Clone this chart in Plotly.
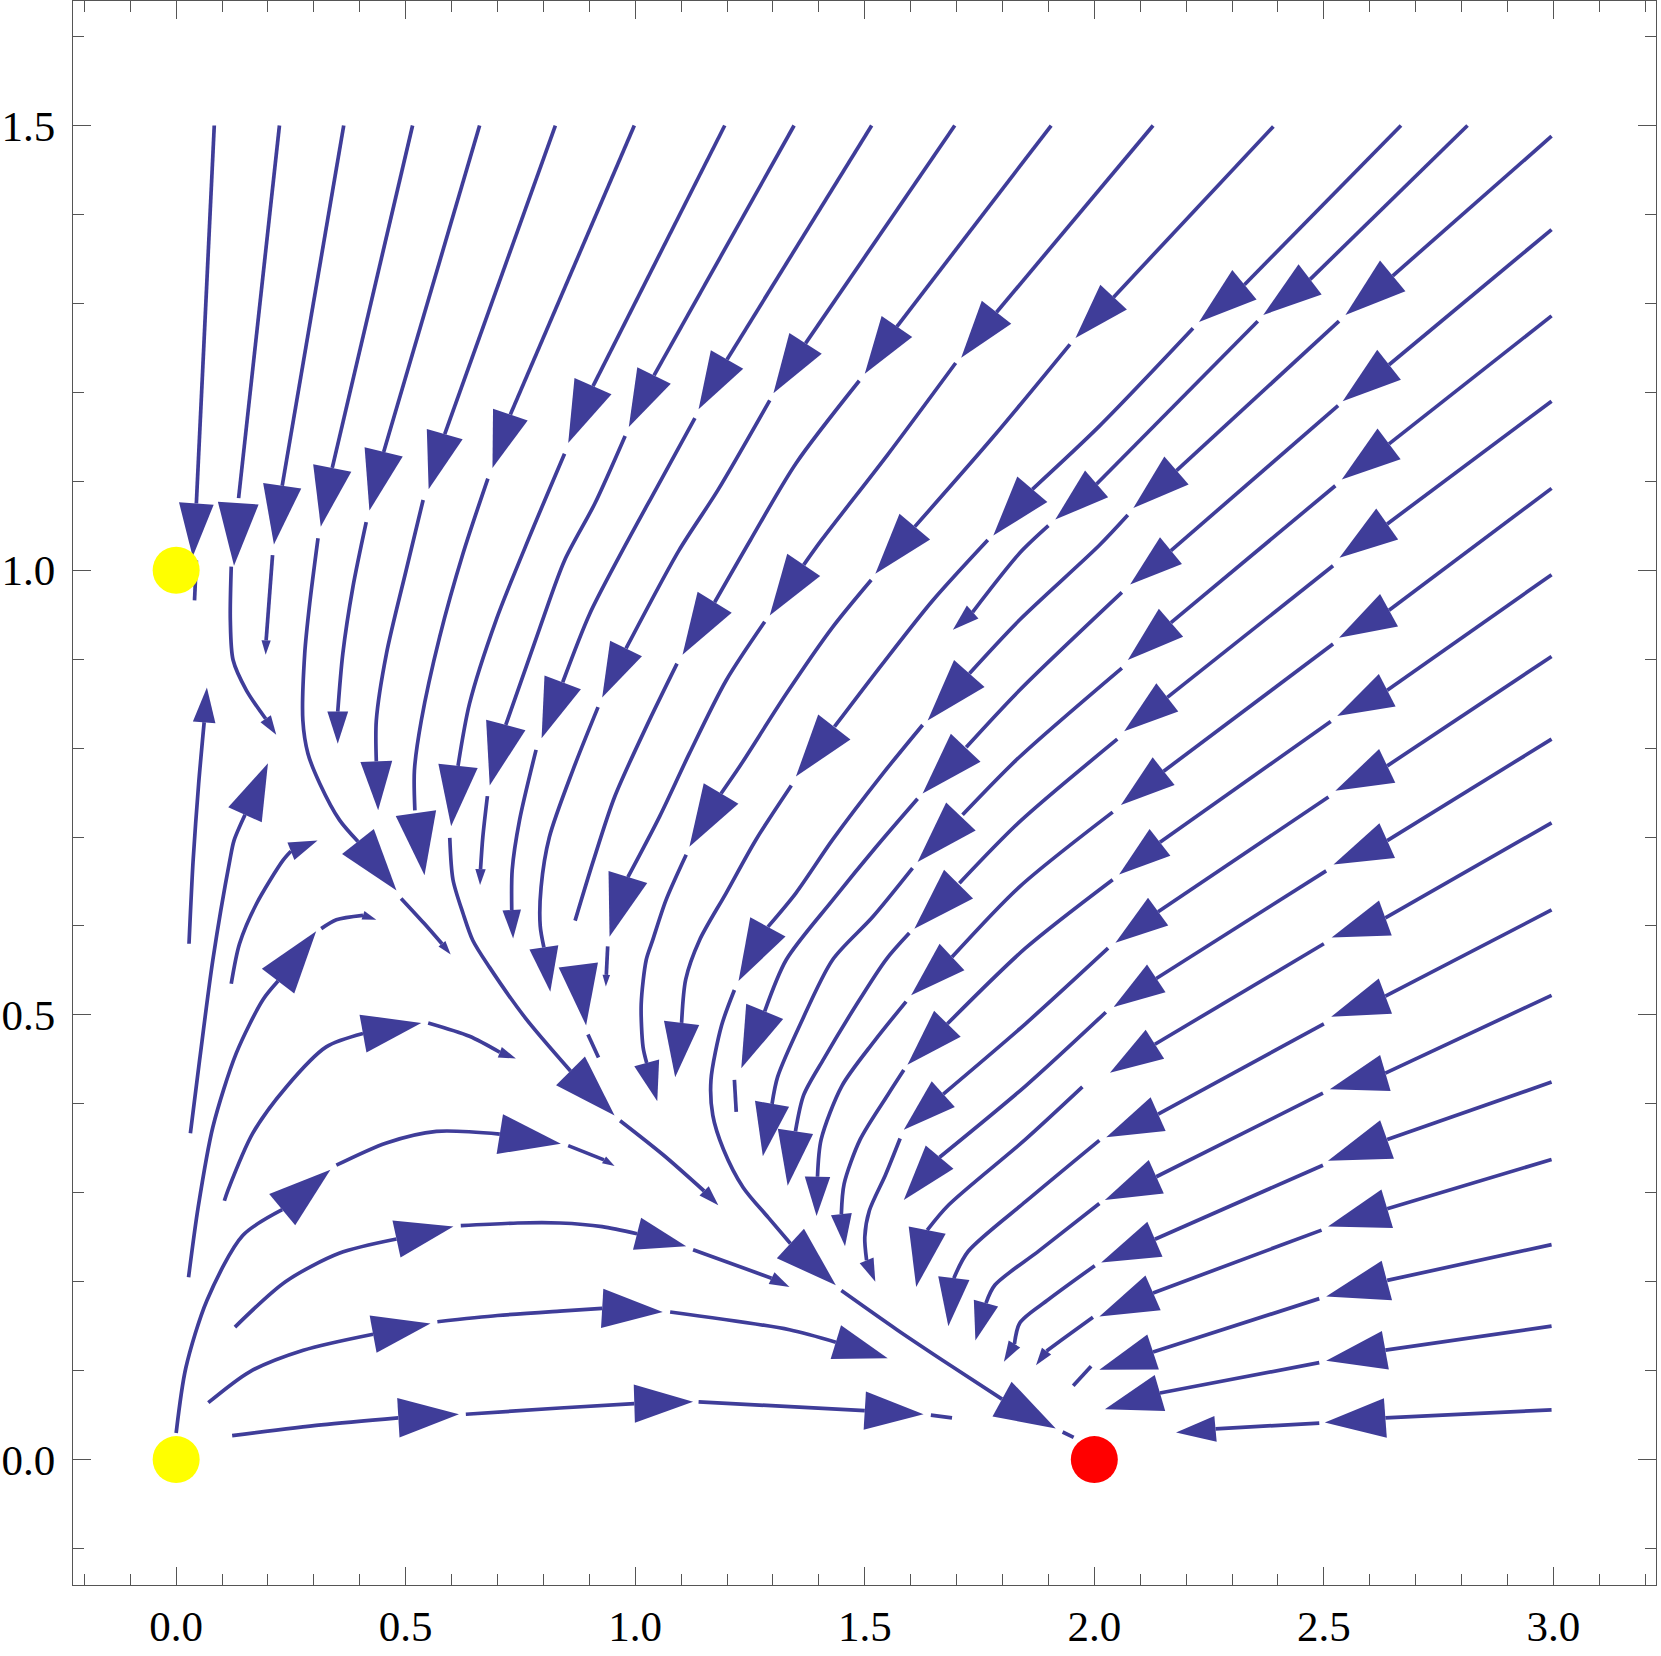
import math
import plotly.graph_objects as go

# streamlines, in data units; each stroke is one unbroken piece
top_strokes = [
    [(0.083, 1.500), (0.044, 1.075)],
    [(0.044, 1.011), (0.040, 0.966)],
    [(0.225, 1.500), (0.136, 1.081)],
    [(0.120, 1.004), (0.118, 0.944), (0.124, 0.899), (0.153, 0.865), (0.195, 0.833)],
    [(0.365, 1.500), (0.231, 1.095)],
    [(0.210, 1.017), (0.196, 0.921)],
    [(0.515, 1.500), (0.340, 1.115)],
    [(0.309, 1.036), (0.291, 0.963), (0.280, 0.906), (0.276, 0.831), (0.287, 0.794),
     (0.313, 0.760), (0.356, 0.719), (0.396, 0.695)],
    [(0.490, 0.631), (0.540, 0.603), (0.579, 0.580)],
    [(0.661, 1.500), (0.452, 1.133)],
    [(0.414, 1.054), (0.385, 0.981), (0.363, 0.906), (0.352, 0.841)],
    [(0.826, 1.500), (0.585, 1.153)],
    [(0.538, 1.079), (0.501, 1.000), (0.458, 0.906), (0.436, 0.831), (0.436, 0.785)],
    [(0.998, 1.500), (0.728, 1.175)],
    [(0.679, 1.103), (0.625, 1.019), (0.574, 0.925), (0.534, 0.831), (0.519, 0.775), (0.520, 0.730)],
    [(1.195, 1.500), (0.908, 1.207)],
    [(0.846, 1.131), (0.770, 1.038), (0.697, 0.944), (0.639, 0.850), (0.614, 0.780)],
    [(0.596, 0.699), (0.603, 0.652), (0.625, 0.614), (0.646, 0.584), (0.682, 0.554),
     (0.760, 0.497), (0.859, 0.437)],
    [(0.967, 0.381), (1.060, 0.343), (1.150, 0.302)],
    [(1.346, 1.500), (1.041, 1.219)],
    [(0.978, 1.151), (0.912, 1.075), (0.846, 1.011), (0.792, 0.935), (0.718, 0.826)],
    [(0.678, 0.746), (0.668, 0.700), (0.663, 0.664)],
    [(1.515, 1.500), (1.200, 1.237)],
    [(1.130, 1.171), (1.045, 1.091), (0.970, 1.020), (0.900, 0.950), (0.842, 0.874)],
    [(0.784, 0.798), (0.748, 0.719), (0.732, 0.663), (0.731, 0.618)],
    [(1.696, 1.500), (1.371, 1.255)],
    [(1.293, 1.191), (1.180, 1.090), (1.095, 1.022), (0.980, 0.912)],
    [(0.919, 0.846), (0.864, 0.775), (0.813, 0.700), (0.795, 0.644), (0.793, 0.600), (0.801, 0.576)],
    [(1.906, 1.500), (1.570, 1.274)],
    [(1.488, 1.213), (1.350, 1.120), (1.251, 1.034), (1.173, 0.964)],
    [(1.091, 0.895), (1.025, 0.825), (0.955, 0.745), (0.908, 0.672), (0.869, 0.606)],
    [(0.897, 0.478), (0.920, 0.452)],
    [(2.128, 1.500), (1.787, 1.290)],
    [(1.698, 1.233), (1.550, 1.130), (1.406, 1.034), (1.367, 1.006)],
    [(1.282, 0.942), (1.198, 0.876), (1.118, 0.794), (1.053, 0.723), (0.984, 0.655)],
    [(0.940, 0.577), (0.937, 0.545)],
    [(2.390, 1.499), (2.042, 1.307)],
    [(1.947, 1.254), (1.780, 1.150), (1.609, 1.049)],
    [(1.514, 0.989), (1.430, 0.936), (1.329, 0.861), (1.227, 0.779), (1.187, 0.749)],
    [(1.111, 0.680), (1.067, 0.629), (1.038, 0.584), (1.024, 0.562), (1.013, 0.512),
     (1.017, 0.464), (1.025, 0.446)],
    [(2.668, 1.500), (2.327, 1.321)],
    [(2.215, 1.272), (2.011, 1.162), (1.865, 1.091)],
    [(1.768, 1.034), (1.648, 0.966), (1.539, 0.895), (1.434, 0.824)],
    [(1.340, 0.758), (1.263, 0.697), (1.198, 0.637), (1.140, 0.584), (1.110, 0.540), (1.101, 0.491)],
    [(2.813, 1.500), (2.470, 1.327)],
    [(2.356, 1.280), (2.005, 1.097)],
    [(1.900, 1.050), (1.837, 1.019), (1.735, 0.953)],
]

# arrowheads as (base x, base y, tip x, tip y)
top_arrows = [
    (0.044, 1.075, 0.036, 1.015), (0.136, 1.081, 0.126, 1.005), (0.231, 1.095, 0.213, 1.029),
    (0.340, 1.115, 0.315, 1.049), (0.452, 1.133, 0.421, 1.067), (0.585, 1.153, 0.550, 1.091),
    (0.728, 1.175, 0.689, 1.115), (0.908, 1.207, 0.854, 1.143), (1.041, 1.219, 0.986, 1.161),
    (1.200, 1.237, 1.138, 1.181), (1.371, 1.255, 1.301, 1.199), (1.570, 1.274, 1.500, 1.221),
    (1.787, 1.290, 1.710, 1.239), (2.042, 1.307, 1.959, 1.261), (2.327, 1.321, 2.228, 1.279),
    (2.470, 1.327, 2.368, 1.287),
    (0.195, 0.833, 0.218, 0.815), (0.196, 0.921, 0.195, 0.905), (0.396, 0.695, 0.480, 0.640),
    (0.579, 0.580, 0.598, 0.568), (0.352, 0.841, 0.352, 0.805), (0.436, 0.785, 0.440, 0.730),
    (0.522, 0.728, 0.541, 0.657), (0.614, 0.780, 0.599, 0.712), (0.859, 0.437, 0.955, 0.387),
    (1.150, 0.302, 1.181, 0.286), (0.718, 0.826, 0.683, 0.758), (0.663, 0.664, 0.662, 0.646),
    (0.842, 0.874, 0.796, 0.811), (0.731, 0.618, 0.734, 0.586), (0.980, 0.912, 0.928, 0.857),
    (0.801, 0.576, 0.815, 0.526), (1.173, 0.964, 1.103, 0.905), (0.876, 0.556, 0.893, 0.488),
    (1.367, 1.006, 1.293, 0.949), (0.984, 0.655, 0.944, 0.588), (0.937, 0.545, 0.936, 0.532),
    (1.609, 1.049, 1.523, 0.996), (1.187, 0.749, 1.118, 0.689), (1.025, 0.446, 1.048, 0.403),
    (1.865, 1.091, 1.780, 1.039), (1.434, 0.824, 1.350, 0.768), (1.101, 0.491, 1.087, 0.430),
    (2.005, 1.097, 1.915, 1.057), (1.735, 0.953, 1.692, 0.933),
]

right_strokes = [
    [(2.996, 1.488), (2.650, 1.331)],
    [(2.533, 1.280), (2.179, 1.112)],
    [(2.073, 1.062), (2.011, 1.028), (1.837, 0.944), (1.728, 0.884)],
    [(1.626, 0.826), (1.539, 0.771), (1.430, 0.697), (1.350, 0.637), (1.289, 0.599)],
    [(1.216, 0.528), (1.188, 0.488), (1.165, 0.427), (1.169, 0.387), (1.192, 0.349),
     (1.235, 0.306), (1.290, 0.272), (1.338, 0.243)],
    [(1.449, 0.190), (1.570, 0.146), (1.686, 0.106), (1.799, 0.068)],
    [(1.931, 0.031), (1.955, 0.025)],
    [(2.996, 1.383), (2.642, 1.231)],
    [(2.531, 1.185), (2.167, 1.022)],
    [(2.060, 0.975), (1.837, 0.865), (1.721, 0.801)],
    [(1.615, 0.743), (1.525, 0.689), (1.430, 0.629), (1.329, 0.562), (1.282, 0.504)],
    [(1.216, 0.427), (1.220, 0.391)],
    [(2.996, 1.286), (2.642, 1.142)],
    [(2.525, 1.095), (2.167, 0.941)],
    [(2.060, 0.890), (1.837, 0.790), (1.713, 0.725)],
    [(1.604, 0.665), (1.517, 0.610), (1.430, 0.562), (1.360, 0.490), (1.310, 0.430), (1.298, 0.400)],
    [(2.996, 1.190), (2.638, 1.052)],
    [(2.520, 1.005), (2.159, 0.857)],
    [(2.050, 0.810), (1.837, 0.717), (1.706, 0.648)],
    [(1.597, 0.592), (1.546, 0.562), (1.480, 0.510), (1.410, 0.450), (1.367, 0.410), (1.349, 0.369)],
    [(2.996, 1.092), (2.642, 0.955)],
    [(2.520, 0.917), (2.151, 0.774)],
    [(2.040, 0.728), (1.837, 0.644), (1.690, 0.565)],
    [(1.590, 0.515), (1.520, 0.470), (1.450, 0.420), (1.405, 0.360), (1.397, 0.318)],
    [(2.996, 0.995), (2.638, 0.865)],
    [(2.515, 0.830), (2.143, 0.694)],
    [(2.040, 0.652), (1.850, 0.575), (1.680, 0.490)],
    [(1.585, 0.438), (1.550, 0.410), (1.490, 0.360), (1.455, 0.310), (1.449, 0.276)],
    [(2.996, 0.903), (2.638, 0.780)],
    [(2.510, 0.745), (2.139, 0.616)],
    [(2.030, 0.575), (1.850, 0.490), (1.671, 0.411)],
    [(1.577, 0.361), (1.545, 0.320), (1.510, 0.280), (1.500, 0.250), (1.504, 0.224)],
    [(2.996, 0.810), (2.638, 0.696)],
    [(2.505, 0.662), (2.135, 0.541)],
    [(2.025, 0.503), (1.850, 0.420), (1.663, 0.340)],
    [(2.996, 0.716), (2.634, 0.609)],
    [(2.500, 0.580), (2.132, 0.467)],
    [(1.974, 0.419), (1.850, 0.360), (1.682, 0.286), (1.636, 0.258)],
    [(2.996, 0.618), (2.634, 0.521)],
    [(2.500, 0.490), (2.139, 0.3885)],
    [(2.011, 0.359), (1.850, 0.290), (1.725, 0.234), (1.694, 0.204)],
    [(2.996, 0.522), (2.634, 0.4346)],
    [(2.498, 0.412), (2.135, 0.318)],
    [(2.011, 0.288), (1.880, 0.235), (1.783, 0.196), (1.764, 0.176)],
    [(2.996, 0.4245), (2.638, 0.360)],
    [(2.498, 0.331), (2.132, 0.2478)],
    [(2.001, 0.218), (1.900, 0.180), (1.838, 0.154), (1.826, 0.130)],
    [(2.996, 0.3375), (2.638, 0.282)],
    [(2.495, 0.258), (2.128, 0.1874)],
    [(1.997, 0.160), (1.930, 0.135), (1.896, 0.122)],
    [(2.996, 0.2417), (2.638, 0.2015)],
    [(2.490, 0.181), (2.128, 0.121)],
    [(1.993, 0.105), (1.954, 0.083)],
    [(2.996, 0.150), (2.634, 0.123)],
    [(2.490, 0.109), (2.143, 0.0749)],
    [(2.996, 0.056), (2.634, 0.0468)],
    [(2.490, 0.041), (2.264, 0.0346)],
]

right_arrows = [
    (2.650, 1.331, 2.547, 1.287), (2.179, 1.112, 2.085, 1.070), (1.728, 0.884, 1.637, 0.831),
    (1.289, 0.599, 1.225, 0.538), (1.338, 0.243, 1.437, 0.196), (1.799, 0.068, 1.916, 0.035),
    (2.642, 1.231, 2.541, 1.190), (2.167, 1.022, 2.078, 0.984), (1.721, 0.801, 1.626, 0.749),
    (1.282, 0.504, 1.231, 0.440),
    (2.642, 1.142, 2.539, 1.102), (2.167, 0.941, 2.073, 0.899), (1.713, 0.725, 1.615, 0.672),
    (1.298, 0.400, 1.278, 0.341),
    (2.638, 1.052, 2.534, 1.014), (2.159, 0.857, 2.065, 0.819), (1.706, 0.648, 1.608, 0.597),
    (1.349, 0.369, 1.332, 0.308),
    (2.642, 0.955, 2.533, 0.924), (2.151, 0.774, 2.058, 0.736), (1.690, 0.565, 1.601, 0.522),
    (1.397, 0.318, 1.395, 0.274),
    (2.638, 0.865, 2.529, 0.836), (2.143, 0.694, 2.054, 0.658), (1.680, 0.490, 1.593, 0.444),
    (1.449, 0.276, 1.457, 0.240),
    (2.638, 0.780, 2.525, 0.752), (2.139, 0.616, 2.046, 0.581), (1.671, 0.411, 1.585, 0.371),
    (1.504, 0.224, 1.523, 0.200),
    (2.638, 0.696, 2.521, 0.669), (2.135, 0.541, 2.042, 0.509), (1.663, 0.340, 1.585, 0.292),
    (2.634, 0.609, 2.517, 0.587), (2.132, 0.467, 2.034, 0.435), (1.636, 0.258, 1.612, 0.194),
    (2.634, 0.521, 2.516, 0.498), (2.139, 0.3885, 2.026, 0.3625), (1.694, 0.204, 1.682, 0.150),
    (2.634, 0.4346, 2.513, 0.4164), (2.135, 0.318, 2.023, 0.292), (1.764, 0.176, 1.741, 0.134),
    (2.638, 0.360, 2.509, 0.336), (2.132, 0.2478, 2.015, 0.2216), (1.826, 0.130, 1.803, 0.110),
    (2.638, 0.282, 2.509, 0.262), (2.128, 0.1874, 2.011, 0.161), (1.896, 0.122, 1.873, 0.106),
    (2.638, 0.2015, 2.505, 0.1834), (2.128, 0.121, 2.011, 0.101),
    (2.634, 0.123, 2.505, 0.111), (2.143, 0.0749, 2.023, 0.0567),
    (2.634, 0.0468, 2.502, 0.0418), (2.264, 0.0346, 2.178, 0.0306),
]

left_strokes = [
    [(0.028, 0.580), (0.037, 0.674), (0.049, 0.760), (0.061, 0.829)],
    [(0.031, 0.367), (0.051, 0.449), (0.080, 0.562), (0.117, 0.674), (0.126, 0.696), (0.150, 0.725)],
    [(0.120, 0.535), (0.138, 0.580), (0.175, 0.625), (0.233, 0.674), (0.250, 0.684)],
    [(0.027, 0.205), (0.048, 0.284), (0.080, 0.374), (0.131, 0.457), (0.189, 0.517), (0.222, 0.538)],
    [(0.316, 0.597), (0.349, 0.607), (0.407, 0.612)],
    [(0.105, 0.291), (0.113, 0.303), (0.167, 0.367), (0.240, 0.419), (0.327, 0.464), (0.407, 0.479)],
    [(0.549, 0.491), (0.639, 0.476), (0.705, 0.458)],
    [(0.000, 0.030), (0.021, 0.103), (0.067, 0.179), (0.145, 0.252), (0.231, 0.281)],
    [(0.349, 0.331), (0.458, 0.356), (0.567, 0.369), (0.705, 0.366)],
    [(0.854, 0.353), (0.932, 0.337)],
    [(0.128, 0.149), (0.238, 0.200), (0.355, 0.232), (0.480, 0.248)],
    [(0.620, 0.263), (0.744, 0.266), (0.836, 0.266), (0.928, 0.262), (1.004, 0.254)],
    [(1.126, 0.236), (1.297, 0.204)],
    [(0.070, 0.064), (0.161, 0.099), (0.277, 0.123), (0.429, 0.141)],
    [(0.569, 0.155), (0.700, 0.162), (0.836, 0.167), (0.928, 0.170)],
    [(1.076, 0.166), (1.336, 0.146), (1.437, 0.132)],
    [(0.122, 0.027), (0.316, 0.039), (0.484, 0.047)],
    [(0.631, 0.051), (0.836, 0.058), (0.998, 0.063)],
    [(1.138, 0.065), (1.500, 0.055)],
    [(1.644, 0.050), (1.690, 0.047)],
]

left_arrows = [
    (0.061, 0.829, 0.067, 0.868), (0.150, 0.725, 0.200, 0.783), (0.250, 0.684, 0.308, 0.696),
    (0.222, 0.538, 0.305, 0.594), (0.407, 0.612, 0.436, 0.607), (0.407, 0.479, 0.534, 0.491),
    (0.705, 0.458, 0.740, 0.451), (0.231, 0.281, 0.336, 0.326), (0.705, 0.366, 0.838, 0.355),
    (0.932, 0.337, 0.955, 0.330), (0.480, 0.248, 0.604, 0.262), (1.004, 0.254, 1.111, 0.240),
    (1.297, 0.204, 1.336, 0.194), (0.429, 0.141, 0.554, 0.153), (0.928, 0.170, 1.060, 0.166),
    (1.437, 0.132, 1.550, 0.114), (0.484, 0.047, 0.616, 0.051), (0.998, 0.063, 1.126, 0.065),
    (1.500, 0.055, 1.628, 0.051),
]

# equilibrium points
unstable_x = [0.0, 0.0]
unstable_y = [0.0, 1.0]
stable_x = [2.0]
stable_y = [0.0]

X_RANGE = [-0.2247, 3.2235]
Y_RANGE = [-0.141, 1.640]
W, H = 1661, 1656
MARGIN = dict(l=73, r=5, t=1, b=71)
LINE_COLOR = "#3F3D99"
FRAME = "#555555"


def stroke_xy(strokes):
    xs, ys = [], []
    for s in strokes:
        for x, y in s:
            xs.append(x)
            ys.append(y)
        xs.append(None)
        ys.append(None)
    return xs, ys


def arrow_xy(arrows):
    # base/tip pairs; the marker sits on the tip and points away from the base
    px_x = (W - MARGIN["l"] - MARGIN["r"]) / (X_RANGE[1] - X_RANGE[0])
    px_y = (H - MARGIN["t"] - MARGIN["b"]) / (Y_RANGE[1] - Y_RANGE[0])
    xs, ys, sizes = [], [], []
    for bx, by, tx, ty in arrows:
        length = math.hypot((tx - bx) * px_x, (ty - by) * px_y)
        xs += [bx, tx]
        ys += [by, ty]
        sizes += [0, min(max(length / 0.951, 12), 66)]
    return xs, ys, sizes


all_strokes = top_strokes + right_strokes + left_strokes
all_arrows = top_arrows + right_arrows + left_arrows

fig = go.Figure()

sx, sy = stroke_xy(all_strokes)
fig.add_trace(go.Scatter(
    x=sx, y=sy, mode="lines",
    line=dict(color=LINE_COLOR, width=3.7, shape="spline", smoothing=0.8),
    hoverinfo="skip", showlegend=False,
))

ax, ay, asz = arrow_xy(all_arrows)
fig.add_trace(go.Scatter(
    x=ax, y=ay, mode="markers",
    marker=dict(symbol="arrow", size=asz, color=LINE_COLOR, opacity=1,
                angleref="previous", line=dict(width=0)),
    hoverinfo="skip", showlegend=False,
))

fig.add_trace(go.Scatter(
    x=unstable_x, y=unstable_y, mode="markers",
    marker=dict(size=47, color="#FFFF00", opacity=1, line=dict(width=0)),
    hoverinfo="skip", showlegend=False,
))
fig.add_trace(go.Scatter(
    x=stable_x, y=stable_y, mode="markers",
    marker=dict(size=47, color="#FF0000", opacity=1, line=dict(width=0)),
    hoverinfo="skip", showlegend=False,
))

tick_font = dict(family="Liberation Serif", size=43, color="black")
axis_common = dict(
    showgrid=False, zeroline=False, automargin=False,
    showline=True, linecolor=FRAME, linewidth=1.3, mirror="allticks",
    ticks="inside", ticklen=18, tickwidth=1.3, tickcolor=FRAME,
    tick0=0, dtick=0.5, tickformat=".1f", tickfont=tick_font,
    minor=dict(ticks="inside", ticklen=11, tickwidth=1.3, tickcolor=FRAME,
               tick0=0, dtick=0.1, showgrid=False),
)

fig.update_xaxes(range=X_RANGE, ticklabelstandoff=3, **axis_common)
fig.update_yaxes(range=Y_RANGE, ticklabelstandoff=8, **axis_common)

fig.update_layout(
    width=W, height=H, margin=MARGIN,
    paper_bgcolor="white", plot_bgcolor="white",
    showlegend=False,
)

fig.write_html(
    "out.html",
    config={"displayModeBar": False},
    post_script="document.body.style.margin='0';document.body.style.overflow='hidden';",
)
